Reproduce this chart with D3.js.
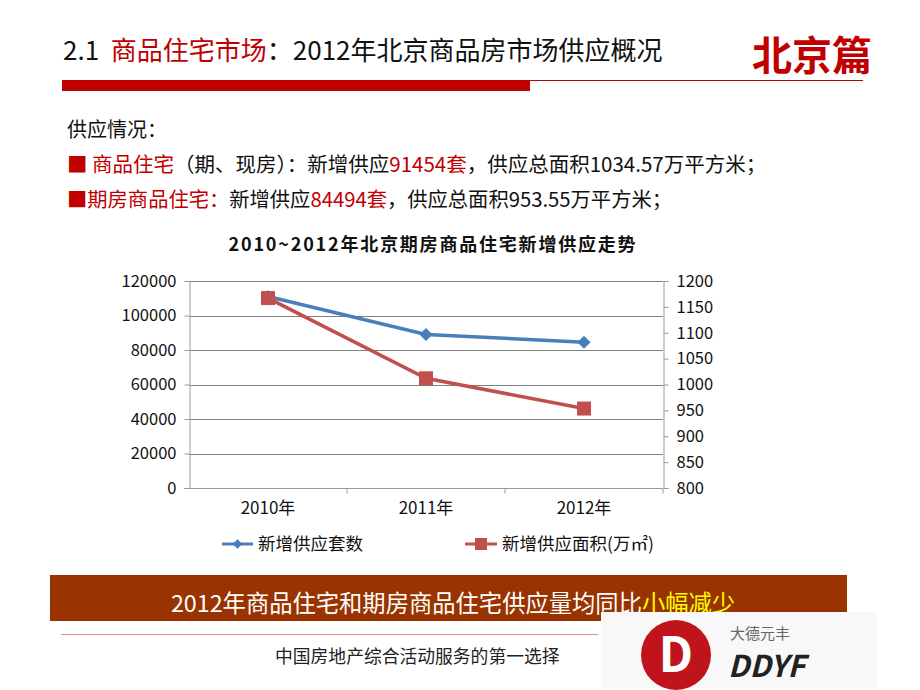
<!DOCTYPE html>
<html>
<head>
<meta charset="utf-8">
<script src="https://cdn.jsdelivr.net/npm/d3@7.9.0/dist/d3.min.js"></script>
<style>
  body { margin: 0; background: #fff; }
  svg text { font-family: "Noto Sans CJK SC", "Open Sans", sans-serif; white-space: pre; }
</style>
</head>
<body>
<svg id="page" width="920" height="690"></svg>
<script>
// data
const years = ['2010年', '2011年', '2012年'];
const units = [111000, 89000, 84494];        // 新增供应套数 (left axis)
const area = [1167, 1012, 953.55];           // 新增供应面积 万㎡ (right axis)
const leftTicks = [0, 20000, 40000, 60000, 80000, 100000, 120000];
const rightTicks = [800, 850, 900, 950, 1000, 1050, 1100, 1150, 1200];

const svg = d3.select('#page');
const red = '#c00000';

// --- header ---
const head = svg.append('text').attr('x', 63).attr('y', 60).attr('font-size', 26).attr('fill', '#111');
head.append('tspan').text('2.1  ');
head.append('tspan').attr('fill', red).text('商品住宅市场');
head.append('tspan').text('：2012年北京商品房市场供应概况');

svg.append('text').attr('x', 872).attr('y', 70).attr('text-anchor', 'end')
  .attr('font-size', 40).attr('font-weight', 'bold').attr('fill', red).text('北京篇');

svg.append('rect').attr('x', 62).attr('y', 80).attr('width', 468).attr('height', 11).attr('fill', red);
svg.append('line').attr('x1', 530).attr('x2', 863).attr('y1', 80.5).attr('y2', 80.5)
  .attr('stroke', red).attr('stroke-width', 1);

// --- intro text ---
svg.append('text').attr('x', 67).attr('y', 137).attr('font-size', 20).attr('fill', '#111').text('供应情况：');

const l2 = svg.append('text').attr('x', 67).attr('y', 172).attr('font-size', 20.5).attr('fill', '#111');
l2.append('tspan').attr('fill', red).text('■ 商品住宅');
l2.append('tspan').text('（期、现房）：新增供应');
l2.append('tspan').attr('fill', red).text('91454套');
l2.append('tspan').text('，供应总面积1034.57万平方米；');

const l3 = svg.append('text').attr('x', 67).attr('y', 207).attr('font-size', 20.3).attr('fill', '#111');
l3.append('tspan').attr('fill', red).text('■期房商品住宅：');
l3.append('tspan').text('新增供应');
l3.append('tspan').attr('fill', red).text('84494套');
l3.append('tspan').text('，供应总面积953.55万平方米；');

// --- chart ---
const plot = { left: 189, right: 663, top: 281, bottom: 488 };
const x = d3.scaleBand().domain(years).range([plot.left, plot.right]);
const yL = d3.scaleLinear().domain([0, 120000]).range([plot.bottom, plot.top]);
const yR = d3.scaleLinear().domain([800, 1200]).range([plot.bottom, plot.top]);
const cx = (d) => x(d) + x.bandwidth() / 2;

svg.append('text').attr('x', 433).attr('y', 251).attr('text-anchor', 'middle')
  .attr('font-size', 18).attr('letter-spacing', 1.8).attr('font-weight', 'bold').attr('fill', '#111')
  .text('2010~2012年北京期房商品住宅新增供应走势');

const g = svg.append('g');

// gridlines
g.selectAll('line.grid').data(leftTicks.slice(1)).join('line')
  .attr('x1', plot.left).attr('x2', plot.right)
  .attr('y1', (d) => Math.round(yL(d)) + 0.5).attr('y2', (d) => Math.round(yL(d)) + 0.5)
  .attr('stroke', '#808080').attr('stroke-width', 1);

// left axis
const axL = g.append('g').attr('transform', `translate(${plot.left + 0.5},0)`)
  .call(d3.axisLeft(yL).tickValues(leftTicks).tickFormat(d3.format('d')).tickSize(5));
// right axis
const axR = g.append('g').attr('transform', `translate(${plot.right + 0.5},0)`)
  .call(d3.axisRight(yR).tickValues(rightTicks).tickFormat(d3.format('d')).tickSize(5));
// bottom axis
const axB = g.append('g').attr('transform', `translate(0,${plot.bottom + 0.5})`)
  .call(d3.axisBottom(x).tickSize(0));
axB.selectAll('.tick line').remove();
axB.selectAll('.tick').append('line')
  .attr('x1', x.bandwidth() / 2).attr('x2', x.bandwidth() / 2).attr('y1', 0).attr('y2', 5)
  .attr('stroke', '#9a9a9a');

[axL, axR, axB].forEach((a) => {
  a.select('.domain').attr('stroke', '#9a9a9a');
  a.selectAll('line').attr('stroke', '#9a9a9a');
  a.selectAll('text').attr('fill', '#111').attr('font-size', 16.5)
    .attr('font-family', '"Open Sans", "Noto Sans CJK SC", sans-serif');
});
axL.selectAll('text').attr('dx', -5);
axR.selectAll('text').attr('dx', 5);
axB.selectAll('text').attr('dy', 22).attr('font-family', '"Noto Sans CJK SC", sans-serif').attr('font-size', 17);
axB.select('.domain').remove();
g.append('line').attr('x1', plot.left).attr('x2', plot.right)
  .attr('y1', plot.bottom + 0.5).attr('y2', plot.bottom + 0.5).attr('stroke', '#9a9a9a');

// series lines
const blue = '#4a7ebb';
const redS = '#c0504d';
const lineL = d3.line().x((d, i) => cx(years[i])).y((d) => yL(d));
const lineR = d3.line().x((d, i) => cx(years[i])).y((d) => yR(d));

g.append('path').attr('d', lineL(units)).attr('fill', 'none').attr('stroke', blue).attr('stroke-width', 3.5);
g.selectAll('path.dia').data(units).join('path')
  .attr('d', d3.symbol(d3.symbolDiamond2, 110)())
  .attr('transform', (d, i) => `translate(${cx(years[i])},${yL(d)})`)
  .attr('fill', blue);

g.append('path').attr('d', lineR(area)).attr('fill', 'none').attr('stroke', redS).attr('stroke-width', 3.5);
g.selectAll('rect.sq').data(area).join('rect')
  .attr('x', (d, i) => cx(years[i]) - 7).attr('y', (d) => yR(d) - 7)
  .attr('width', 14).attr('height', 14).attr('fill', redS);

// legend
const lg = svg.append('g').attr('font-size', 17.5).attr('fill', '#111');
lg.append('line').attr('x1', 222).attr('x2', 253).attr('y1', 544).attr('y2', 544).attr('stroke', blue).attr('stroke-width', 3);
lg.append('path').attr('d', d3.symbol(d3.symbolDiamond2, 60)()).attr('transform', 'translate(237.5,544)').attr('fill', blue);
lg.append('text').attr('x', 258).attr('y', 550).text('新增供应套数');
lg.append('line').attr('x1', 465).attr('x2', 497).attr('y1', 544).attr('y2', 544).attr('stroke', redS).attr('stroke-width', 3);
lg.append('rect').attr('x', 475).attr('y', 538).attr('width', 12).attr('height', 12).attr('fill', redS);
lg.append('text').attr('x', 502).attr('y', 550).text('新增供应面积(万㎡)');

// --- bottom banner ---
svg.append('rect').attr('x', 50).attr('y', 575).attr('width', 797).attr('height', 46).attr('fill', '#993300');
const bn = svg.append('text').attr('x', 453).attr('y', 612).attr('text-anchor', 'middle')
  .attr('font-size', 23.3).attr('fill', '#fff');
bn.append('tspan').text('2012年商品住宅和期房商品住宅供应量均同比');
bn.append('tspan').attr('fill', '#ffff00').text('小幅减少');

// footer
svg.append('line').attr('x1', 61).attr('x2', 598).attr('y1', 634.5).attr('y2', 634.5)
  .attr('stroke', '#e8907c').attr('stroke-width', 1);
svg.append('text').attr('x', 275).attr('y', 663).attr('font-size', 17.8).attr('fill', '#222')
  .text('中国房地产综合活动服务的第一选择');

// logo
const logo = svg.append('g');
logo.append('rect').attr('x', 601).attr('y', 612).attr('width', 276).attr('height', 76).attr('fill', '#f8f8f8');
logo.append('circle').attr('cx', 676).attr('cy', 655).attr('r', 35).attr('fill', '#c0141c');
logo.append('text').attr('x', 676).attr('y', 672).attr('text-anchor', 'middle')
  .attr('font-size', 48).attr('font-weight', 'bold').attr('fill', '#fff')
  .attr('font-family', '"DejaVu Sans", sans-serif').text('D');
logo.append('text').attr('x', 730).attr('y', 639).attr('font-size', 15).attr('fill', '#666').text('大德元丰');
logo.append('text').attr('x', 728).attr('y', 677).attr('font-size', 30).attr('font-weight', 'bold')
  .attr('font-style', 'italic').attr('fill', '#222')
  .attr('font-family', '"Liberation Sans", sans-serif').text('DDYF');
</script>
</body>
</html>
